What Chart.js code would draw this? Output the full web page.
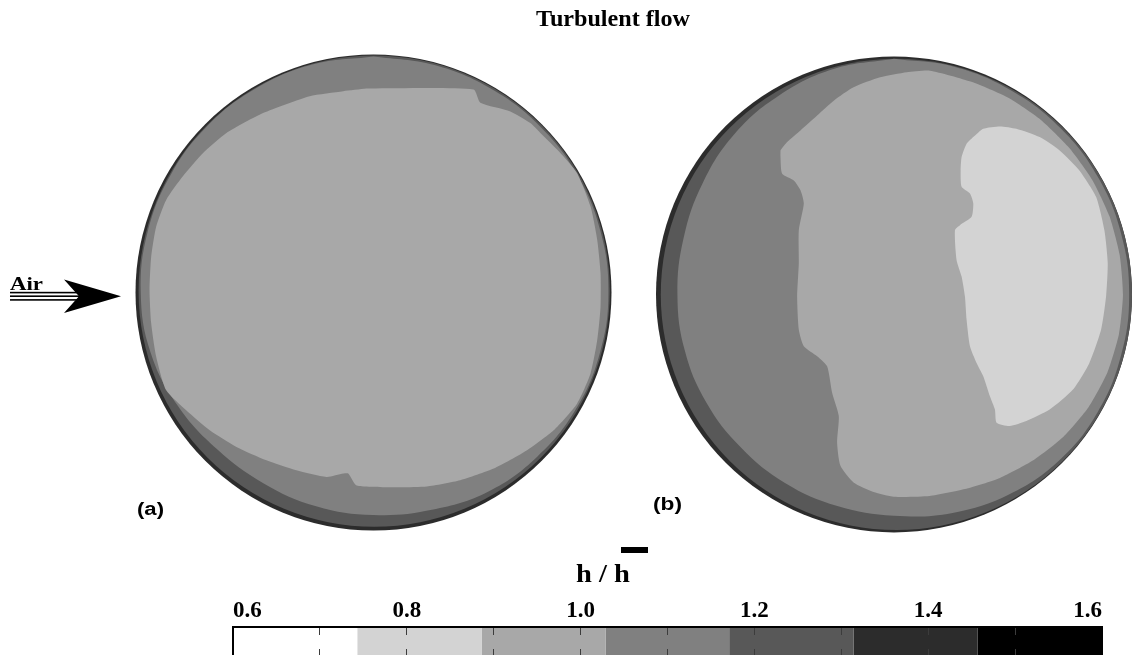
<!DOCTYPE html>
<html>
<head>
<meta charset="utf-8">
<title>Turbulent flow</title>
<script src="https://cdn.jsdelivr.net/npm/chart.js@4.4.1/dist/chart.umd.min.js"></script>
<style>
  html, body { margin: 0; padding: 0; background: #fff; }
  #wrap { position: relative; width: 1133px; height: 655px; overflow: hidden; }
  #wrap canvas { position: absolute; left: 0; }
  #mapCanvas { top: 0; }
  #barCanvas { top: 540px; }
</style>
</head>
<body>
<div id="wrap">
  <canvas id="mapCanvas" width="1133" height="655"></canvas>
  <canvas id="barCanvas" width="1133" height="115"></canvas>
</div>
<script>
// h / h-bar colour levels (band edges) and the grey used for each band
const levels = [0.6, 0.743, 0.886, 1.029, 1.171, 1.314, 1.457, 1.6];
const bandGreys = ['#ffffff', '#d3d3d3', '#a8a8a8', '#808080', '#585858', '#2c2c2c', '#000000'];
const labelEvery = 2; // colour bar ticks every 0.1, labels every 0.2

// cylinder centres, in cylinder radii
const centreA = [0, 0];
const centreB = [2.187, -0.008];

// contour outlines, relative to each cylinder centre (radius = 1)
// (a) band 1.03-1.17 (outer ring) and band 0.89-1.03 (core)
const aRing = [[0, 0.992], [0.256, 0.956], [0.494, 0.856], [0.699, 0.699], [0.856, 0.494], [0.954, 0.256],
  [0.987, 0], [0.951, -0.255], [0.85, -0.491], [0.689, -0.689], [0.483, -0.836], [0.245, -0.913],
  [0, -0.935], [-0.241, -0.898], [-0.463, -0.801], [-0.658, -0.658], [-0.823, -0.475], [-0.937, -0.251],
  [-0.978, 0], [-0.949, 0.254], [-0.853, 0.493], [-0.699, 0.699], [-0.495, 0.857], [-0.257, 0.958], [0, 0.992]];
const aCore = [[-0.03, 0.857], [0.42, 0.853], [0.449, 0.797], [0.575, 0.761], [0.659, 0.712], [0.715, 0.656],
  [0.785, 0.586], [0.855, 0.502], [0.912, 0.361], [0.94, 0.221], [0.954, 0.081], [0.954, -0.06],
  [0.94, -0.2], [0.912, -0.34], [0.855, -0.467], [0.757, -0.579], [0.645, -0.663], [0.505, -0.74],
  [0.364, -0.789], [0.224, -0.815], [0.083, -0.818], [-0.071, -0.811], [-0.106, -0.761], [-0.127, -0.761],
  [-0.197, -0.775], [-0.324, -0.747], [-0.45, -0.705], [-0.576, -0.649], [-0.688, -0.579], [-0.787, -0.495],
  [-0.871, -0.411], [-0.913, -0.27], [-0.934, -0.13], [-0.941, 0.011], [-0.934, 0.151], [-0.913, 0.277],
  [-0.871, 0.389], [-0.801, 0.488], [-0.716, 0.586], [-0.618, 0.67], [-0.464, 0.754], [-0.268, 0.825],
  [-0.127, 0.846], [-0.03, 0.857]];
// (b) band 1.03-1.17 (ring), 0.89-1.03 (core), 0.74-0.89 (peak)
const bRing = [[0, 0.99], [0.256, 0.956], [0.494, 0.856], [0.699, 0.699], [0.856, 0.494], [0.954, 0.256],
  [0.988, 0], [0.954, -0.256], [0.856, -0.494], [0.696, -0.696], [0.485, -0.84], [0.246, -0.918],
  [0, -0.93], [-0.238, -0.889], [-0.458, -0.792], [-0.643, -0.643], [-0.788, -0.455], [-0.879, -0.236],
  [-0.91, 0], [-0.884, 0.237], [-0.805, 0.465], [-0.672, 0.672], [-0.483, 0.836], [-0.254, 0.947], [0, 0.99]];
const bCore = [[-0.477, 0.605], [-0.449, 0.64], [-0.393, 0.689], [-0.323, 0.752], [-0.253, 0.814], [-0.17, 0.87],
  [-0.058, 0.912], [0.054, 0.933], [0.151, 0.94], [0.325, 0.893], [0.478, 0.827], [0.616, 0.734],
  [0.735, 0.617], [0.833, 0.481], [0.905, 0.329], [0.948, 0.167], [0.962, 0], [0.945, -0.167],
  [0.897, -0.327], [0.818, -0.473], [0.712, -0.598], [0.585, -0.697], [0.445, -0.771], [0.298, -0.818],
  [0.149, -0.847], [0, -0.85], [-0.086, -0.83], [-0.17, -0.79], [-0.225, -0.72], [-0.239, -0.623],
  [-0.232, -0.511], [-0.26, -0.413], [-0.281, -0.302], [-0.323, -0.26], [-0.379, -0.218], [-0.4, -0.149],
  [-0.407, -0.009], [-0.4, 0.131], [-0.4, 0.27], [-0.379, 0.382], [-0.393, 0.438], [-0.421, 0.479],
  [-0.47, 0.507], [-0.477, 0.577], [-0.477, 0.605]];
const bPeak = [[0.333, 0.661], [0.375, 0.696], [0.445, 0.706], [0.514, 0.696], [0.612, 0.661], [0.696, 0.605],
  [0.779, 0.521], [0.849, 0.41], [0.884, 0.27], [0.898, 0.131], [0.891, -0.009], [0.87, -0.149],
  [0.821, -0.288], [0.752, -0.4], [0.654, -0.484], [0.556, -0.532], [0.486, -0.553], [0.431, -0.539],
  [0.424, -0.484], [0.403, -0.428], [0.375, -0.344], [0.347, -0.288], [0.319, -0.218], [0.305, -0.107],
  [0.298, -0.009], [0.284, 0.075], [0.263, 0.144], [0.256, 0.27], [0.277, 0.291], [0.326, 0.326],
  [0.333, 0.382], [0.319, 0.424], [0.284, 0.452], [0.28, 0.521], [0.284, 0.577], [0.305, 0.633], [0.333, 0.661]];
// dark rim disks (offset from centre, radius)
const aRim = [0.003, 0.006, 0.99];
const bRim = [0.01, 0, 0.99];

// page layout of the map
const unitPx = 238;                 // one cylinder radius on screen
const originPx = [373.5, 292.5];    // where centreA sits on the page

function diskRadius(ctx) {
  if (!ctx.raw) return 0;
  const xs = ctx.chart.scales.x;
  return xs.getPixelForValue(ctx.raw.x + ctx.raw.rad) - xs.getPixelForValue(ctx.raw.x);
}

function disk(c, off, r, color) {
  return {
    data: [{ x: c[0] + off[0], y: c[1] + off[1], rad: r }],
    pointBackgroundColor: color,
    pointBorderWidth: 0,
    pointRadius: diskRadius,
    pointHoverRadius: diskRadius
  };
}

function patch(c, pts, color, tension) {
  return {
    data: pts.map(p => ({ x: c[0] + p[0], y: c[1] + p[1] })),
    showLine: true,
    fill: 'shape',
    backgroundColor: color,
    borderColor: color,
    borderWidth: 0,
    pointRadius: 0,
    pointHoverRadius: 0,
    tension: tension
  };
}

// stretch text to the width it has in the figure
function fitText(ctx, text, x, y, width, font) {
  ctx.save();
  ctx.font = font;
  const k = width / ctx.measureText(text).width;
  ctx.translate(x, y);
  ctx.scale(k, 1);
  ctx.textAlign = 'left';
  ctx.textBaseline = 'alphabetic';
  ctx.fillText(text, 0, 0);
  ctx.restore();
}

const annotate = {
  id: 'annotate',
  afterDraw(chart) {
    const ctx = chart.ctx;
    ctx.save();
    ctx.fillStyle = '#000';
    fitText(ctx, 'Turbulent flow', 536, 26, 154, 'bold 24px "Liberation Serif"');

    // incoming air arrow
    fitText(ctx, 'Air', 10, 290, 33, 'bold 18px "Liberation Serif"');
    ctx.fillRect(10, 291.8, 70, 1.6);
    ctx.fillRect(10, 295.4, 72, 1.6);
    ctx.fillRect(10, 299.1, 70, 1.6);
    ctx.beginPath();
    ctx.moveTo(64, 279.5);
    ctx.lineTo(121, 296.2);
    ctx.lineTo(64, 313);
    ctx.lineTo(79, 296.2);
    ctx.closePath();
    ctx.fill();

    fitText(ctx, '(a)', 137, 514.5, 27, 'bold 18px "Liberation Sans"');
    fitText(ctx, '(b)', 653, 509.5, 29, 'bold 18px "Liberation Sans"');

    // colour bar title h / h-bar
    fitText(ctx, 'h / h', 576, 582, 54, 'bold 25px "Liberation Serif"');
    ctx.fillRect(621, 547, 27, 6);
    ctx.restore();
  }
};

// paint order: first entry at the bottom
const mapSets = [
  disk(centreA, [0, 0], 1, bandGreys[5]),
  disk(centreA, aRim, aRim[2], bandGreys[4]),
  patch(centreA, aRing, bandGreys[3], 0.4),
  patch(centreA, aCore, bandGreys[2], 0.2),
  disk(centreB, [0, 0], 1, bandGreys[5]),
  disk(centreB, bRim, bRim[2], bandGreys[4]),
  patch(centreB, bRing, bandGreys[3], 0.4),
  patch(centreB, bCore, bandGreys[2], 0.2),
  patch(centreB, bPeak, bandGreys[1], 0.2)
];
mapSets.forEach((d, i) => { d.order = mapSets.length - i; });

new Chart(document.getElementById('mapCanvas'), {
  type: 'scatter',
  data: { datasets: mapSets },
  options: {
    responsive: false,
    animation: false,
    events: [],
    layout: { padding: 0, autoPadding: false },
    plugins: { legend: { display: false }, tooltip: { enabled: false } },
    scales: {
      x: { type: 'linear', display: false, min: -originPx[0] / unitPx, max: (1133 - originPx[0]) / unitPx },
      y: { type: 'linear', display: false, min: -(655 - originPx[1]) / unitPx, max: originPx[1] / unitPx }
    }
  },
  plugins: [annotate]
});

// colour bar
const isEdge = (ctx) => ctx.index === 0 || (ctx.scale && ctx.index === ctx.scale.ticks.length - 1);

new Chart(document.getElementById('barCanvas'), {
  type: 'bar',
  data: {
    labels: ['h / h'],
    datasets: bandGreys.map((g, i) => ({
      data: [[levels[i], levels[i + 1]]],
      backgroundColor: g,
      borderWidth: 0,
      grouped: false,
      barPercentage: 1,
      categoryPercentage: 1,
      inflateAmount: 0
    }))
  },
  options: {
    indexAxis: 'y',
    responsive: false,
    animation: false,
    events: [],
    layout: { padding: { left: 233, right: 31, top: 0, bottom: 0 } },
    plugins: { legend: { display: false }, tooltip: { enabled: false } },
    scales: {
      x: {
        type: 'linear',
        position: 'top',
        min: levels[0],
        max: levels[levels.length - 1],
        afterFit: (s) => { s.height = 87; },
        ticks: {
          stepSize: 0.1,
          autoSkip: false,
          maxRotation: 0,
          align: 'inner',
          padding: 2,
          color: '#000',
          font: { family: '"Liberation Serif", "Times New Roman", serif', weight: 'bold', size: 23 },
          callback: (v, i) => (i % labelEvery === 0 ? Number(v).toFixed(1) : '')
        },
        grid: {
          drawTicks: false,
          z: 1,
          color: (ctx) => (isEdge(ctx) ? '#000' : '#3c3c3c'),
          lineWidth: (ctx) => (isEdge(ctx) ? 2 : 1)
        },
        border: {
          display: true,
          color: '#000',
          width: 2,
          z: 2,
          dash: (ctx) => (isEdge(ctx) ? [] : [7, 14])
        }
      },
      y: { display: false }
    }
  }
});
</script>
</body>
</html>
